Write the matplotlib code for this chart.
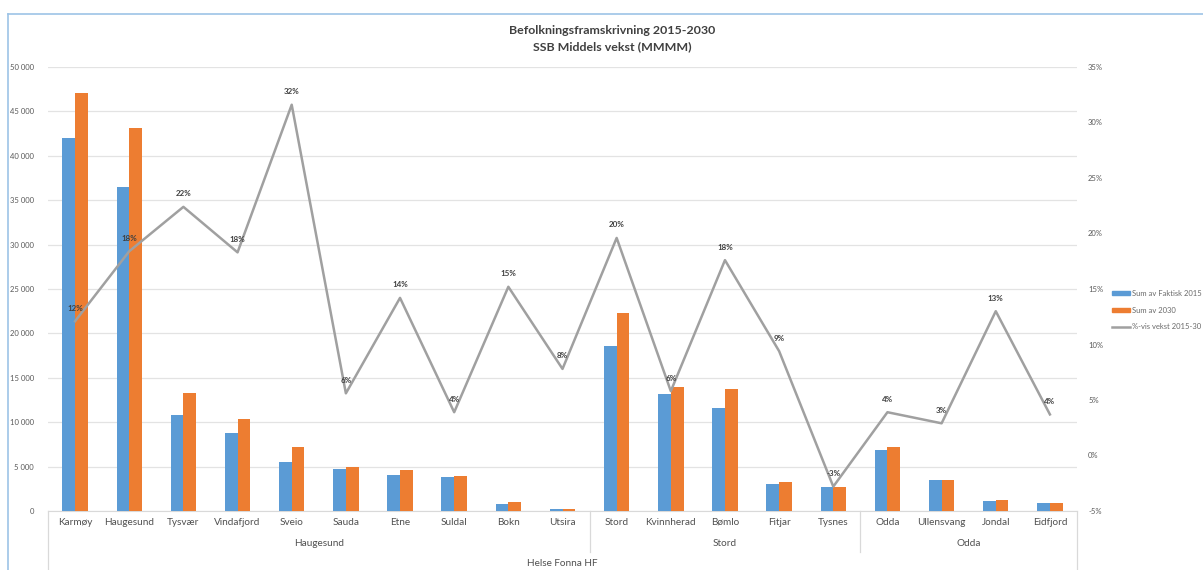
import matplotlib
matplotlib.use("Agg")
import matplotlib.pyplot as plt
from matplotlib.lines import Line2D
from matplotlib.patches import Patch
from matplotlib.ticker import FuncFormatter, MultipleLocator

plt.rcParams['font.family'] = ['Lato', 'DejaVu Sans']

municipalities = ["Karmøy", "Haugesund", "Tysvær", "Vindafjord", "Sveio", "Sauda", "Etne",
                  "Suldal", "Bokn", "Utsira", "Stord", "Kvinnherad", "Bømlo", "Fitjar",
                  "Tysnes", "Odda", "Ullensvang", "Jondal", "Eidfjord"]
groups = ["Haugesund", "Stord", "Odda"]
group_sizes = [10, 5, 4]
top_group = "Helse Fonna HF"

pop_2015 = [42000, 36450, 10830, 8760, 5490, 4740, 4020, 3870, 830, 200,
            18600, 13200, 11650, 3000, 2740, 6880, 3460, 1090, 940]
pop_2030 = [47070, 43160, 13270, 10340, 7180, 5000, 4620, 3980, 980, 210,
            22300, 13950, 13760, 3300, 2670, 7180, 3500, 1240, 940]
growth_pct = [12.1, 18.4, 22.4, 18.3, 31.6, 5.6, 14.2, 3.9, 15.2, 7.8,
              19.6, 5.8, 17.6, 9.4, -2.8, 3.9, 2.9, 13.0, 3.7]

series_names = ["Sum av Faktisk 2015", "Sum av 2030", "%-vis vekst 2015-30"]
title_lines = ["Befolkningsframskrivning 2015-2030", "SSB Middels vekst (MMMM)"]

BLUE = "#5B9BD5"
ORANGE = "#ED7D31"
GRAY = "#A0A0A0"
TXT = "#595959"
W, H = 1203, 570

fig = plt.figure(figsize=(W / 100, H / 100), dpi=100)
ax = fig.add_axes([48 / W, 1 - 511 / H, (1077 - 48) / W, (511 - 67) / H])
ax2 = ax.twinx()

x = list(range(len(municipalities)))
bw = 0.235
ax.bar([i - bw / 2 for i in x], pop_2015, width=bw, color=BLUE, zorder=3)
ax.bar([i + bw / 2 for i in x], pop_2030, width=bw, color=ORANGE, zorder=3)

ax.set_xlim(-0.5, len(municipalities) - 0.5)
ax.set_ylim(0, 50000)
ax.yaxis.set_major_locator(MultipleLocator(5000))
ax.yaxis.set_major_formatter(FuncFormatter(lambda v, p: f"{int(v):,}".replace(",", " ")))
ax.grid(axis='y', color="#E3E3E3", lw=0.9, zorder=0)
ax.set_axisbelow(True)
for s in ["top", "right", "left"]:
    ax.spines[s].set_visible(False)
ax.spines["bottom"].set_color("#D9D9D9")
ax.tick_params(axis='y', length=0, pad=10, labelsize=5.5, labelcolor=TXT)
ax.set_xticks(x)
ax.set_xticklabels(municipalities)
ax.tick_params(axis='x', length=0, pad=5, labelsize=7.2, labelcolor="#505050")

ax2.plot(x, growth_pct, color=GRAY, lw=1.8, zorder=4)
ax2.set_ylim(-5, 35)
ax2.yaxis.set_major_locator(MultipleLocator(5))
ax2.yaxis.set_major_formatter(FuncFormatter(lambda v, p: f"{int(round(v))}%"))
ax2.tick_params(axis='y', length=0, pad=8, labelsize=5.5, labelcolor=TXT)
for s in ax2.spines.values():
    s.set_visible(False)
for xi, v in zip(x, growth_pct):
    ax2.annotate(f"{round(v)}%", (xi, v), xytext=(0, 13), textcoords='offset pixels',
                 ha='center', va='center', fontsize=5.8, fontweight='bold', color="#404040", zorder=5)

# multi-level category axis
ah = 511 - 67
tr = ax.get_xaxis_transform()
start = 0
bounds = [-0.5]
for g, n in zip(groups, group_sizes):
    center = start + (n - 1) / 2
    ax.text(center, -(544 - 511) / ah, g, transform=tr, ha='center', va='center',
            fontsize=7.2, color="#505050")
    start += n
    bounds.append(start - 0.5)
for i, b in enumerate(bounds):
    low = -(570 - 511) / ah if i in (0, len(bounds) - 1) else -(552 - 511) / ah
    ax.add_line(Line2D([b, b], [0, low], transform=tr, color="#D9D9D9", lw=0.9, clip_on=False))
ax.text((len(municipalities) - 1) / 2, -(563 - 511) / ah, top_group, transform=tr,
        ha='center', va='center', fontsize=7.2, color="#505050")

# title
fig.text(612 / W, 1 - 30 / H, title_lines[0], ha='center', va='center', fontsize=8.9,
         fontweight='bold', color="#404040")
fig.text(612 / W, 1 - 47 / H, title_lines[1], ha='center', va='center', fontsize=8.9,
         fontweight='bold', color="#404040")

# legend
handles = [Patch(color=BLUE), Patch(color=ORANGE), Line2D([], [], color=GRAY, lw=1.8)]
fig.legend(handles, series_names, loc='upper left', bbox_to_anchor=(1112 / W, 1 - 290 / H),
           frameon=False, fontsize=5.5, handlelength=2.3, handleheight=0.5, handletextpad=0.3,
           labelspacing=1.25, labelcolor="#6A6A6A", borderaxespad=0, borderpad=0)

# chart border
fig.add_artist(Line2D([8 / W, 8 / W], [0, 1 - 14 / H], transform=fig.transFigure, color="#9DC3E6", lw=1.2))
fig.add_artist(Line2D([8 / W, 1], [1 - 14 / H, 1 - 14 / H], transform=fig.transFigure, color="#9DC3E6", lw=1.2))

fig.savefig("out.png", dpi=100)
